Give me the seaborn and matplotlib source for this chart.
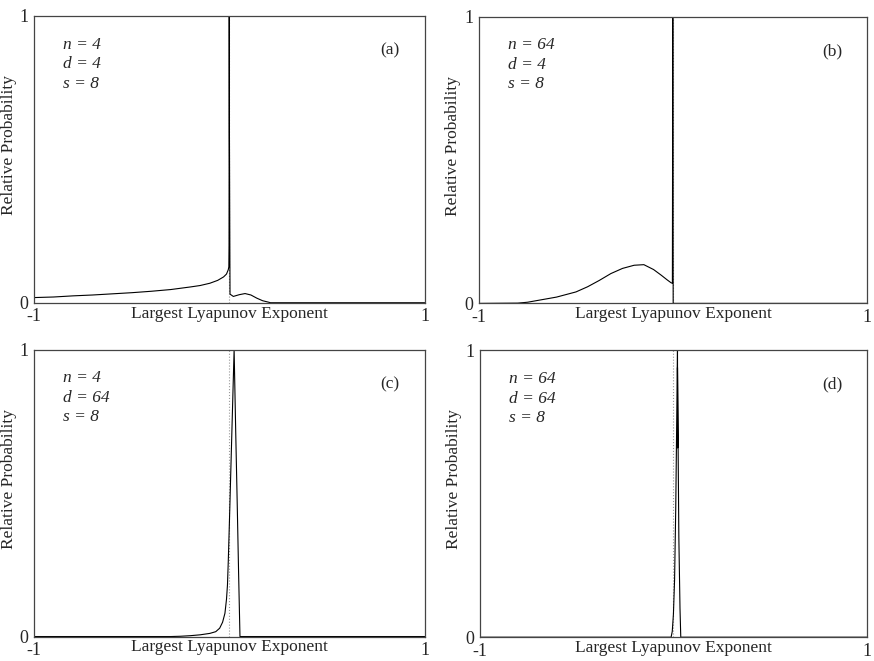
import matplotlib
matplotlib.use('Agg')
import matplotlib.pyplot as plt
import pandas as pd
import seaborn as sns

# hand-read curves for the four panels
xa = [-1.0, -0.9, -0.8, -0.7, -0.6, -0.5, -0.4, -0.3, -0.2, -0.15, -0.1, -0.06, -0.03,
      -0.015, -0.006, -0.003, -0.002, -0.001, 0.0, 0.003, 0.02, 0.05, 0.08, 0.11, 0.14,
      0.17, 0.2, 0.21, 1.0]
ya = [0.018, 0.02, 0.024, 0.027, 0.031, 0.035, 0.040, 0.046, 0.055, 0.060, 0.068, 0.078,
      0.09, 0.10, 0.115, 0.125, 0.2, 1.0, 0.6, 0.03, 0.022, 0.028, 0.032, 0.027, 0.016,
      0.007, 0.002, 0.0, 0.0]

xb = [-1.0, -0.8, -0.75, -0.7, -0.6, -0.5, -0.44, -0.38, -0.32, -0.26, -0.2, -0.15, -0.1,
      -0.06, -0.03, -0.01, -0.003, -0.002, -0.001, 0.0, 0.001, 1.0]
yb = [0.0, 0.001, 0.004, 0.01, 0.022, 0.04, 0.058, 0.08, 0.104, 0.122, 0.133, 0.135, 0.118,
      0.098, 0.082, 0.072, 0.07, 0.55, 1.0, 0.55, 0.0, 0.0]

xc = [-1.0, -0.3, -0.25, -0.2, -0.15, -0.1, -0.07, -0.05, -0.035, -0.023, -0.015, -0.01,
      -0.006, 0.0, 0.008, 0.016, 0.024, 0.032, 0.04, 0.047, 0.054, 1.0]
yc = [0.0, 0.0, 0.001, 0.003, 0.006, 0.011, 0.017, 0.029, 0.05, 0.081, 0.13, 0.18,
      0.26, 0.4, 0.6, 0.8, 1.0, 0.72, 0.46, 0.22, 0.0, 0.0]

xd = [-1.0, -0.012, -0.006, 0.0, 0.006, 0.012, 0.017, 0.021, 0.022, 0.021, 0.028, 0.034,
      0.038, 1.0]
yd = [0.0, 0.0, 0.02, 0.08, 0.2, 0.45, 0.75, 1.0, 0.66, 0.94, 0.35, 0.1, 0.0, 0.0]

params = [['n = 4', 'd = 4', 's = 8'],
          ['n = 64', 'd = 4', 's = 8'],
          ['n = 4', 'd = 64', 's = 8'],
          ['n = 64', 'd = 64', 's = 8']]
tags = ['(a)', '(b)', '(c)', '(d)']

sns.set_theme(style='white')
plt.rcParams['font.family'] = ['Liberation Serif', 'DejaVu Serif']

fig = plt.figure(figsize=(8.74, 6.61), dpi=100)
boxes = [[0.039, 0.542, 0.447, 0.434],
         [0.548, 0.541, 0.444, 0.434],
         [0.039, 0.037, 0.447, 0.434],
         [0.549, 0.036, 0.443, 0.434]]
curves = [(xa, ya), (xb, yb), (xc, yc), (xd, yd)]

for box, (xs, ys), par, tag in zip(boxes, curves, params, tags):
    ax = fig.add_axes(box)
    df = pd.DataFrame({'x': xs, 'y': ys})
    ax.axvline(0, color='#999999', lw=0.8, ls=':')
    sns.lineplot(data=df, x='x', y='y', ax=ax, sort=False, estimator=None,
                 color='black', lw=0.8)
    ax.set_xlim(-1, 1)
    ax.set_ylim(0, 1)
    ax.set_xticks([-1, 1])
    ax.set_xticklabels(['-1', '1'])
    ax.set_yticks([0, 1])
    ax.set_yticklabels(['0', '1'])
    ax.tick_params(length=0, labelsize=13, pad=4)
    ax.set_xlabel('Largest Lyapunov Exponent', fontsize=12.5)
    ax.xaxis.set_label_coords(0.5, -0.01)
    ax.set_ylabel('Relative Probability', fontsize=12.5)
    ax.yaxis.set_label_coords(-0.045, 0.55)
    for sp in ax.spines.values():
        sp.set_color('#444444')
        sp.set_linewidth(0.9)
    for i, t in enumerate(par):
        ax.text(0.075, 0.90 - i * 0.068, t, transform=ax.transAxes, fontsize=12.5,
                style='italic', va='center', ha='left')
    ax.text(0.91, 0.88, tag, transform=ax.transAxes, fontsize=12.5,
            va='center', ha='center')

fig.savefig('out.png', dpi=100)
